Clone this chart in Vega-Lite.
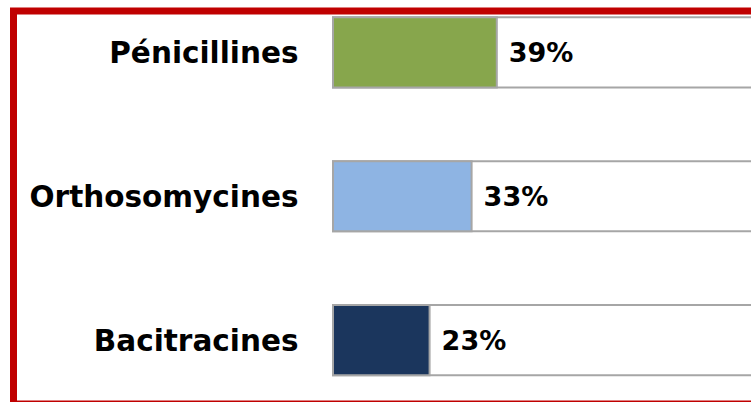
{
  "$schema": "https://vega.github.io/schema/vega-lite/v6.json",
  "autosize": "none",
  "padding": {"left": 13.5, "top": 11, "right": 0, "bottom": 0},
  "width": 750,
  "height": 393,
  "background": "#ffffff",
  "config": {
    "view": {"stroke": "#c00000", "strokeWidth": 7},
    "font": "DejaVu Sans"
  },
  "data": {
    "values": [
      {"name": "Pénicillines", "value": 0.39},
      {"name": "Orthosomycines", "value": 0.33},
      {"name": "Bacitracines", "value": 0.23}
    ]
  },
  "layer": [
    {
      "mark": {"type": "bar", "fill": "#ffffff", "stroke": "#a6a6a6", "strokeWidth": 2},
      "encoding": {
        "y": {
          "field": "name",
          "type": "nominal",
          "sort": ["Pénicillines", "Orthosomycines", "Bacitracines"],
          "scale": {"paddingInner": 0.512, "paddingOuter": 0.122, "align": 0.18},
          "axis": {
            "title": null,
            "domain": false,
            "ticks": false,
            "grid": false,
            "labelPadding": -284.5,
            "labelOffset": 2,
            "labelAlign": "right",
            "labelBaseline": "middle",
            "labelFont": "DejaVu Sans",
            "labelFontWeight": "bold",
            "labelFontSize": 29.5,
            "labelColor": "#000000",
            "labelLimit": 400
          }
        },
        "x": {"datum": 1, "type": "quantitative", "scale": {"domain": [-0.7607, 1.025], "nice": false, "zero": false}, "axis": null}
      }
    },
    {
      "mark": {"type": "bar", "stroke": "#a6a6a6", "strokeWidth": 2},
      "encoding": {
        "y": {"field": "name", "type": "nominal", "sort": ["Pénicillines", "Orthosomycines", "Bacitracines"]},
        "x": {"field": "value", "type": "quantitative"},
        "fill": {
          "field": "name",
          "type": "nominal",
          "scale": {"domain": ["Pénicillines", "Orthosomycines", "Bacitracines"], "range": ["#87a64c", "#8eb4e3", "#1b365d"]},
          "legend": null
        }
      }
    },
    {
      "mark": {"type": "text", "align": "left", "baseline": "middle", "dx": 12, "dy": 2, "font": "DejaVu Sans", "fontWeight": "bold", "fontSize": 27, "fill": "#000000"},
      "encoding": {
        "y": {"field": "name", "type": "nominal", "sort": ["Pénicillines", "Orthosomycines", "Bacitracines"]},
        "x": {"field": "value", "type": "quantitative"},
        "text": {"field": "value", "type": "quantitative", "format": ".0%"}
      }
    }
  ]
}
